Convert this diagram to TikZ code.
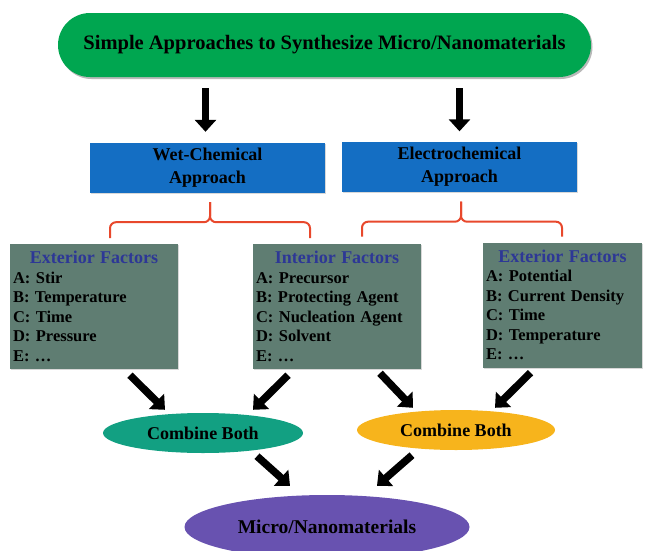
\documentclass[tikz,border=0pt]{standalone}
\usepackage{fontspec}
\setmainfont{Liberation Serif}
\usepackage{xcolor}
\usetikzlibrary{arrows.meta,positioning,shapes.geometric,shadows,calc}

\definecolor{topgreen}{RGB}{0,166,80}
\definecolor{approachblue}{RGB}{20,110,195}
\definecolor{bracered}{RGB}{232,72,44}
\definecolor{factorgray}{RGB}{95,125,114}
\definecolor{factorblue}{RGB}{45,55,150}
\definecolor{combteal}{RGB}{18,160,130}
\definecolor{comborange}{RGB}{247,180,28}
\definecolor{resultpurple}{RGB}{104,82,176}

\newcommand{\factitle}[1]{{\centering\color{factorblue}\fontsize{18}{22}\selectfont #1\par}}

\tikzset{
  bigarrow/.style={line width=7.5pt,-{Triangle[width=21pt,length=12pt]}},
  brace/.style={draw=bracered,line width=2pt,rounded corners=6pt},
  topbox/.style={rectangle,rounded corners=32pt,fill=topgreen,minimum width=533pt,minimum height=64pt,
    drop shadow={shadow xshift=1.5pt,shadow yshift=-2pt,fill=black!55},font=\bfseries\fontsize{20.5}{24}\selectfont},
  approach/.style={rectangle,fill=approachblue,minimum width=235pt,minimum height=50pt,align=center,
    drop shadow={shadow xshift=1pt,shadow yshift=-1pt,fill=black!30},font=\bfseries\fontsize{18}{23}\selectfont},
  factor/.style={rectangle,fill=factorgray,minimum height=125pt,inner xsep=3pt,inner ysep=2pt,align=left,
    drop shadow={shadow xshift=1pt,shadow yshift=-1pt,fill=black!30},font=\bfseries\fontsize{16.5}{19.5}\selectfont},
  combine/.style={ellipse,minimum width=200pt,minimum height=40pt,inner sep=0pt,font=\bfseries\fontsize{18}{20}\selectfont},
}

\begin{document}
\begin{tikzpicture}[x=1pt,y=-1pt]
\useasboundingbox (0,0) rectangle (649,550);

\node[topbox] (top) at (324.5,45) {Simple Approaches to Synthesize Micro/Nanomaterials};

% two approaches
\node[approach] (wet) at (207.5,168) {Wet-Chemical\\Approach};
\node[approach] (elec) at (459.5,166.5) {Electrochemical\\Approach};
\draw[bigarrow] ($(top.south -| wet.north)+(-2,11)$) -- ($(wet.north)+(-2,-11)$);
\draw[bigarrow] ($(top.south -| elec.north)+(0,11)$) -- ($(elec.north)+(0,-10)$);

% braces
\draw[brace] ($(wet.south)+(-97.5,45)$) |- ($(wet.south)+(2.5,29)$) -- ($(wet.south)+(2.5,9)$);
\draw[brace] ($(wet.south)+(102.5,45)$) |- ($(wet.south)+(2.5,29)$) -- ($(wet.south)+(2.5,9)$);
\draw[brace] ($(elec.south)+(-97.5,45)$) |- ($(elec.south)+(1.5,30)$) -- ($(elec.south)+(1.5,10)$);
\draw[brace] ($(elec.south)+(102.5,45)$) |- ($(elec.south)+(1.5,30)$) -- ($(elec.south)+(1.5,10)$);

% factors
\node[factor,text width=162pt] (ext1) at (94,306.5)
  {\factitle{Exterior Factors}A: Stir\\B: Temperature\\C: Time\\D: Pressure\\E: …};
\node[factor,text width=162pt] (int) at (337,306.5)
  {\factitle{Interior Factors}A: Precursor\\B: Protecting Agent\\C: Nucleation Agent\\D: Solvent\\E: …};
\node[factor,text width=153pt] (ext2) at (562.5,305)
  {\factitle{Exterior Factors}A: Potential\\B: Current Density\\C: Time\\D: Temperature\\E: …};

% combine
\node[combine,fill=combteal] (comb1) at (203,433) {Combine Both};
\node[combine,fill=comborange,minimum width=198pt] (comb2) at (456,430) {Combine Both};
\draw[bigarrow] ($(ext1.south)+(36,6)$) -- ($(comb1.north)+(-38,-3)$);
\draw[bigarrow] ($(int.south)+(-49,6)$) -- ($(comb1.north)+(50,-3)$);
\draw[bigarrow] ($(int.south)+(43,4)$) -- ($(comb2.north)+(-43,-2)$);
\draw[bigarrow] ($(ext2.south)+(-32,5)$) -- ($(comb2.north)+(39,-2)$);

% result
\node[ellipse,fill=resultpurple,minimum width=285pt,minimum height=64pt,inner sep=0pt,
  font=\bfseries\fontsize{19.5}{22}\selectfont] (result) at (327,527) {Micro/Nanomaterials};
\draw[bigarrow] ($(comb1.south)+(54,3)$) -- ($(result.north)+(-37,-9)$);
\draw[bigarrow] ($(comb2.south)+(-44,5)$) -- ($(result.north)+(50,-9)$);
\end{tikzpicture}
\end{document}
